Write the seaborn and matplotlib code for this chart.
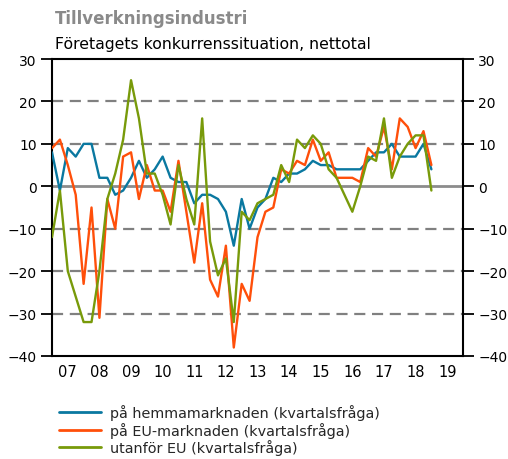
import numpy as np
import pandas as pd
import seaborn as sns
import matplotlib.pyplot as plt
from matplotlib.ticker import FixedLocator

# kvartal 2007K1 .. 2019K1
quarters = [f"{y}K{q}" for y in range(2007, 2020) for q in range(1, 5)][:49]

hemma = [8, -1, 9, 7, 10, 10, 2, 2, -2, -1, 2, 6,
         2, 4, 7, 2, 1, 1, -4, -2, -2, -3, -6, -14,
         -3, -10, -5, -3, 2, 1, 3, 3, 4, 6, 5, 5,
         4, 4, 4, 4, 6, 8, 8, 10, 7, 7, 7, 10,
         4]
eu = [9, 11, 5, -2, -23, -5, -31, -3, -10, 7, 8, -3,
      5, -1, -1, -6, 6, -6, -18, -4, -22, -26, -14, -38,
      -23, -27, -12, -6, -5, 4, 3, 6, 5, 11, 6, 8,
      2, 2, 2, 1, 9, 7, 14, 4, 16, 14, 9, 13,
      5]
utanfor = [-12, -1, -20, -26, -32, -32, -20, -3, 3, 11, 25, 16,
           3, 3, -2, -9, 5, -3, -9, 16, -13, -21, -17, -32,
           -6, -8, -4, -3, -2, 5, 1, 11, 9, 12, 10, 4,
           2, -2, -6, 0, 7, 6, 16, 2, 7, 10, 12, 12,
           -1]

labels = ["på hemmamarknaden (kvartalsfråga)",
          "på EU-marknaden (kvartalsfråga)",
          "utanför EU (kvartalsfråga)"]
colors = ["#0a78a0", "#ff4f0a", "#789a0a"]
year_labels = [f"{y % 100:02d}" for y in range(2007, 2020)]

pos = [int(q[:4]) + (int(q[-1]) - 1) / 4 for q in quarters]
df = pd.DataFrame({"x": pos, labels[0]: hemma, labels[1]: eu, labels[2]: utanfor})
long = df.melt(id_vars="x", var_name="serie", value_name="v")

sns.set_style("white")
plt.rcParams["font.family"] = ["DejaVu Sans"]

fig = plt.figure(figsize=(5.08, 4.6), dpi=100)
ax = fig.add_axes([52 / 508, 1 - 357 / 460, 411 / 508, 297 / 460])

for yv in [20, 10, -10, -20, -30]:
    ax.axhline(yv, color="#808080", lw=1.6, dashes=(5, 3), zorder=1)
ax.axhline(0, color="#8c8c8c", lw=2, zorder=1)

sns.lineplot(data=long, x="x", y="v", hue="serie", palette=colors,
             hue_order=labels, lw=1.7, ax=ax, legend=False, zorder=3)

ax.set_xlim(2007, 2020)
ax.set_ylim(-40, 30)
ax.set_yticks(range(-40, 31, 10))
ax.xaxis.set_major_locator(FixedLocator(list(range(2007, 2021))))
ax.xaxis.set_minor_locator(FixedLocator([y + 0.5 for y in range(2007, 2020)]))
ax.set_xticklabels([])
ax.set_xticklabels(year_labels, minor=True)
ax.tick_params(axis="x", which="major", direction="out", length=5, width=1.3, color="black")
ax.tick_params(axis="x", which="minor", length=0, labelsize=10.5, pad=6, labelcolor="black")
ax.tick_params(axis="y", direction="out", length=8, width=1.3, color="black",
               labelsize=10, labelcolor="black", right=True, labelright=True,
               left=True, pad=3)
ax.set_xlabel("")
ax.set_ylabel("")
for s in ax.spines.values():
    s.set_color("black")
    s.set_linewidth(1.5)

fig.text(55 / 508, 1 - 19 / 460, "Tillverkningsindustri", fontsize=12,
         fontweight="bold", color="#8a8a8a", va="center")
fig.text(55 / 508, 1 - 44 / 460, "Företagets konkurrenssituation, nettotal",
         fontsize=11.3, color="black", va="center")

handles = [plt.Line2D([], [], color=c, lw=2) for c in colors]
fig.legend(handles, labels, loc="upper left", bbox_to_anchor=(59 / 508, 1 - 405 / 460),
           frameon=False, fontsize=10.4, handlelength=2.9, handletextpad=0.6,
           labelspacing=0.12, borderaxespad=0, borderpad=0)

fig.savefig("out.png", dpi=100)
